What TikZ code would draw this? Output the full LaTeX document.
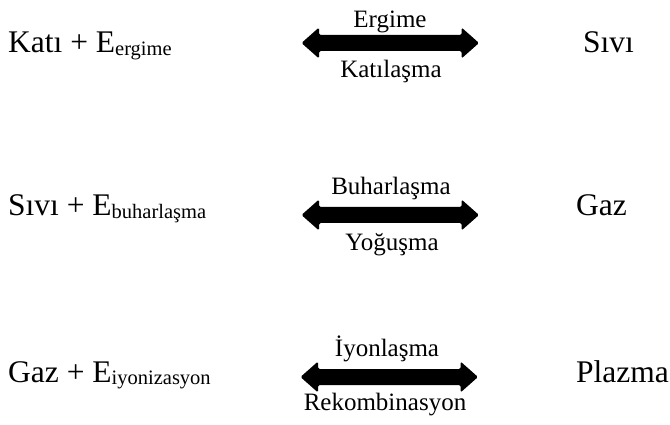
\documentclass[tikz,border=0pt]{standalone}
\usepackage{fontspec}
\setmainfont{Liberation Serif}
\usetikzlibrary{calc}
\newcommand\mainsize{\fontsize{31.5}{36}\selectfont}
\newcommand\labsize{\fontsize{25}{30}\selectfont}
\newcommand\subE[1]{E\raisebox{-2.5pt}{\fontsize{20.5}{24}\selectfont #1}}
\newcommand\fatarrow[2]{%
  \fill[arrowbody] (#1) -- ($(#1)+(17.5,-15.5)$) -- ($(#1)+(17.5,-8)$) -- ($(#2)+(-17.5,-8)$)
    -- ($(#2)+(-17.5,-15.5)$) -- (#2) -- ($(#2)+(-17.5,15.5)$) -- ($(#2)+(-17.5,8)$)
    -- ($(#1)+(17.5,8)$) -- ($(#1)+(17.5,15.5)$) -- cycle;}
\begin{document}
\begin{tikzpicture}[x=1pt,y=-1pt,
  state/.style={inner sep=0pt,anchor=base west,font=\mainsize},
  lab/.style={inner sep=0pt,anchor=base,font=\labsize},
  arrowbody/.style={black,rounded corners=1.5pt}]
\useasboundingbox (0,0) rectangle (670,425);
% row 1
\node[state] (k1) at (8,53) {Katı + \subE{ergime}};
\node[state] (s1) at (583,53) {Sıvı};
\coordinate (a1l) at (301.5,43);
\coordinate (a1r) at (479,43);
\fatarrow{a1l}{a1r}
\node[lab] (e1) at (390,28) {Ergime};
\node[lab] (k1b) at (391,77.5) {Katılaşma};
% row 2
\node[state] (s2) at (8,216) {Sıvı + \subE{buharlaşma}};
\node[state] (g2) at (576,216) {Gaz};
\coordinate (a2l) at (301.5,215);
\coordinate (a2r) at (479,215);
\fatarrow{a2l}{a2r}
\node[lab] (b2) at (391,195) {Buharlaşma};
\node[lab] (y2) at (392,251) {Yoğuşma};
% row 3
\node[state] (g3) at (8,382) {Gaz + \subE{iyonizasyon}};
\node[state] (p3) at (576,382) {Plazma};
\coordinate (a3l) at (300.5,377);
\coordinate (a3r) at (478,377);
\fatarrow{a3l}{a3r}
\node[lab] (i3) at (387,356) {İyonlaşma};
\node[lab] (r3) at (385,410) {Rekombinasyon};
\end{tikzpicture}
\end{document}
